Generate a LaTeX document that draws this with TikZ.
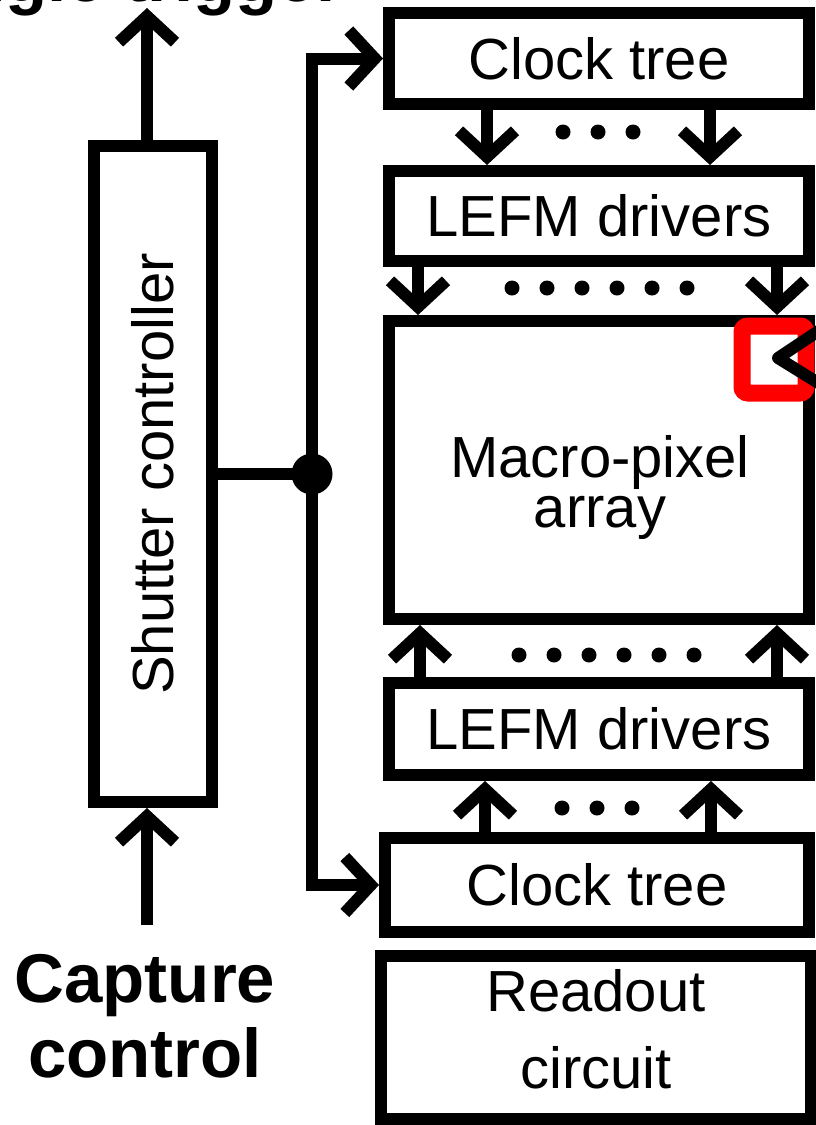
\documentclass[tikz,border=0pt]{standalone}
\usepackage{fontspec}
\setmainfont{Liberation Sans}
\usetikzlibrary{arrows.meta,positioning,calc}

\begin{document}
\begin{tikzpicture}[
  x=1pt, y=-1pt,
  >={Straight Barb[length=26pt,width=56pt]},
  blk/.style={
    rectangle, draw=black, fill=white, line width=12pt,
    minimum width=420pt, inner sep=0pt,
    font=\fontsize{58}{66}\selectfont
  },
  conn/.style={line width=12pt, ->},
  lbl/.style={align=center, inner sep=0pt, font=\fontsize{58}{50}\selectfont},
  capt/.style={align=center, inner sep=0pt, font=\fontsize{69}{75}\selectfont\bfseries},
  bead/.style={circle, fill=black, inner sep=0pt, minimum size=15pt}
]
\useasboundingbox (0,0) rectangle (816,1125);
\clip (0,0) rectangle (816,1125);

% -- Controle do obturador --
\node[blk, minimum width=118pt, minimum height=656pt] (shutter) at (153,474) {\rotatebox{90}{Shutter controller}};
\node[capt, anchor=base west] (trigtxt) at (-102,1) {Single trigger};
\node[capt] (captxt) at (145,1016) {Capture\\control};

% -- Coluna da direita --
\node[blk, minimum height=91pt]  (clktop)  at (599,58.5) {Clock tree};
\node[blk, minimum height=90pt]  (lefmtop) at (599,216)  {LEFM drivers};
\node[blk, minimum height=298pt] (macro)   at (599,470)  {};
\node[lbl] (macrolbl) at (600,487) {Macro-pixel\\array};
\node[blk, minimum height=92pt]  (lefmbot) at (599,729)  {LEFM drivers};
\node[blk, minimum width=424pt, minimum height=94pt] (clkbot) at (597,885) {Clock tree};
\node[blk, minimum width=430pt, minimum height=163pt] (readout) at (596,1037.5) {};
\node[lbl, font=\fontsize{58}{77}\selectfont] (readlbl) at (596,1029) {Readout\\circuit};

% -- Entradas e saidas --
\coordinate (trig) at (147,8);
\draw[conn] (trig |- shutter.north) -- (trig);
\coordinate (capin) at (147,925);
\draw[conn] (capin) -- (capin |- shutter.south);

% -- Distribuicao do relogio --
\coordinate (jn) at (312,474);
\draw[line width=12pt] (shutter.east) -- (jn);
\draw[conn, line join=miter] (jn) |- (clktop.west);
\draw[conn, line join=miter] (jn) |- (clkbot.west);
\fill (jn) circle (20.5pt);

\foreach \x in {487,710}
  \draw[conn] (\x,0 |- clktop.south) -- (\x,0 |- lefmtop.north);
\foreach \x in {418,777}
  \draw[conn] (\x,0 |- lefmtop.south) -- (\x,0 |- macro.north);
\foreach \x in {420,777}
  \draw[conn] (\x,0 |- lefmbot.north) -- (\x,0 |- macro.south);
\foreach \x in {485,711}
  \draw[conn] (\x,0 |- clkbot.north) -- (\x,0 |- lefmbot.south);

% -- Reticencias --
\foreach \x in {563,598,633} \node[bead] (da\x) at (\x,132) {};
\foreach \k in {0,...,5} \node[bead] (db\k) at (512+35*\k,288) {};
\foreach \k in {0,...,5} \node[bead] (dc\k) at (519+35*\k,655) {};
\foreach \x in {562,597,632} \node[bead] (dd\x) at (\x,808) {};

% -- Destaque --
\draw[red, line width=17pt, rounded corners=6pt] (742,326) rectangle (806,393);
\draw[line width=12pt, line cap=round, line join=round] (820,330) -- (778,358) -- (820,384);

\end{tikzpicture}
\end{document}
